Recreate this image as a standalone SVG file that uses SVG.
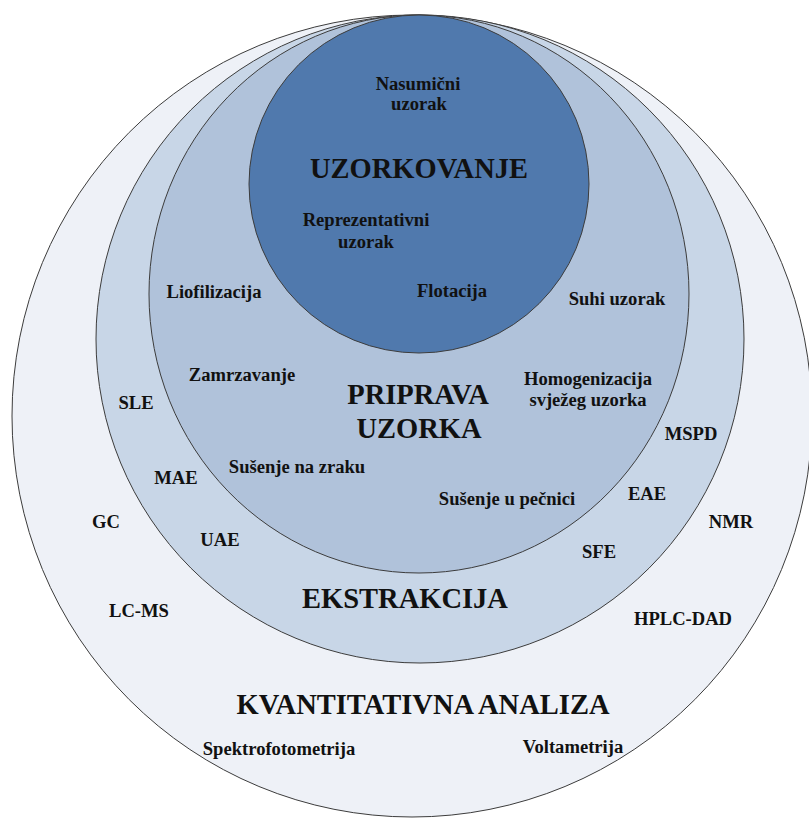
<svg xmlns="http://www.w3.org/2000/svg" width="809" height="818" viewBox="0 0 809 818">
<style>
.ring{stroke:#3c3c3c;stroke-width:1}
.t{font-family:"Liberation Serif","Times New Roman",serif;font-weight:bold;fill:#111;text-anchor:middle}
.s{font-size:18.6px}
.b{font-size:28.5px}
</style>
<rect width="809" height="818" fill="#ffffff"/>
<g id="analiza">
<ellipse class="ring" cx="412" cy="416" rx="400" ry="401" fill="#EEF1F7"/>
<text class="t b" x="423" y="714">KVANTITATIVNA ANALIZA</text>
<text class="t s" x="106" y="528">GC</text>
<text class="t s" x="139" y="617">LC-MS</text>
<text class="t s" x="731" y="528">NMR</text>
<text class="t s" x="683" y="625">HPLC-DAD</text>
<text class="t s" x="279" y="755">Spektrofotometrija</text>
<text class="t s" x="573" y="753">Voltametrija</text>
</g>
<g id="ekstrakcija">
<circle class="ring" cx="420" cy="339" r="324" fill="#C8D6E7"/>
<text class="t b" x="405" y="608">EKSTRAKCIJA</text>
<text class="t s" x="136" y="409">SLE</text>
<text class="t s" x="176" y="484">MAE</text>
<text class="t s" x="220" y="546">UAE</text>
<text class="t s" x="691" y="440">MSPD</text>
<text class="t s" x="647" y="500">EAE</text>
<text class="t s" x="599" y="558">SFE</text>
</g>
<g id="priprava">
<ellipse class="ring" cx="419" cy="294" rx="270" ry="279" fill="#B0C2DA"/>
<text class="t b" x="418" y="404">PRIPRAVA</text>
<text class="t b" x="419" y="438">UZORKA</text>
<text class="t s" x="214" y="298">Liofilizacija</text>
<text class="t s" x="617" y="305">Suhi uzorak</text>
<text class="t s" x="242" y="381">Zamrzavanje</text>
<text class="t s" x="588" y="385">Homogenizacija</text>
<text class="t s" x="588" y="406">svježeg uzorka</text>
<text class="t s" x="297" y="473">Sušenje na zraku</text>
<text class="t s" x="507" y="505">Sušenje u pečnici</text>
</g>
<g id="uzorkovanje">
<ellipse class="ring" cx="419" cy="184" rx="170" ry="169" fill="#5079AD"/>
<text class="t b" x="419" y="178">UZORKOVANJE</text>
<text class="t s" x="418" y="90">Nasumični</text>
<text class="t s" x="419" y="110">uzorak</text>
<text class="t s" x="366" y="226">Reprezentativni</text>
<text class="t s" x="366" y="248">uzorak</text>
<text class="t s" x="452" y="297">Flotacija</text>
</g>
<g id="connectors"/>
</svg>
